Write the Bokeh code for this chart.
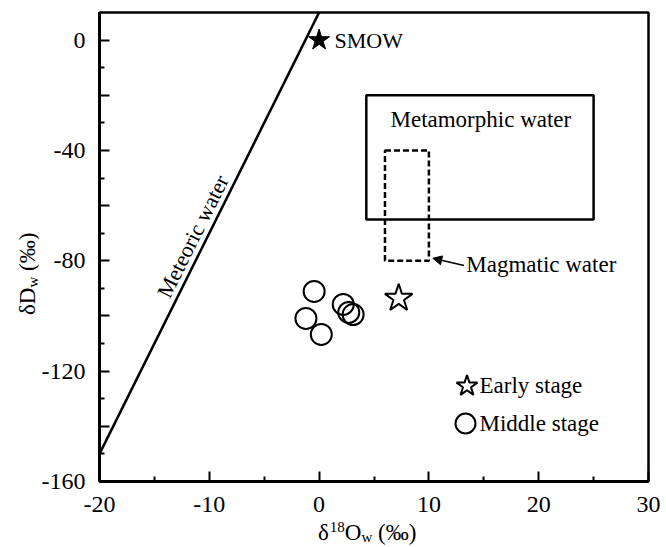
from bokeh.plotting import figure
from bokeh.layouts import row, column
from bokeh.models import (Range1d, FixedTicker, Label, Arrow, NormalHead,
                          Legend, LegendItem, Div)
from bokeh.embed import file_html
from bokeh.resources import INLINE

FONT = "Liberation Serif"

# ---- data ----
x_ticks = [-20, -10, 0, 10, 20, 30]
x_labels = {-20: "-20", -10: "-10", 0: "0", 10: "10", 20: "20", 30: "30"}
x_minor = [-15, -5, 5, 15, 25]
y_ticks = [-160, -140, -120, -100, -80, -60, -40, -20, 0]
y_minor = [-150, -130, -110, -90, -70, -50, -30, -10]
y_labels = {-160: "-160", -140: "", -120: "-120", -100: "", -80: "-80",
            -60: "", -40: "-40", -20: "", 0: "0"}

# Global meteoric water line (dD = 8 d18O + 10)
mwl_x = [-20, 0]
mwl_y = [-150, 10]

smow_x = [0]
smow_y = [0]

early_x = [7.25]
early_y = [-93.6]

middle_x = [-0.45, -1.2, 0.2, 2.2, 2.7, 3.1]
middle_y = [-91.1, -100.9, -106.7, -95.8, -98.7, -99.5]

meta_left, meta_right, meta_bottom, meta_top = [4.3], [25], [-65], [-20]
mag_left, mag_right, mag_bottom, mag_top = [6], [10], [-80], [-40]

# ---- figure ----
p = figure(width=628, height=515, x_range=Range1d(-20, 30),
           y_range=Range1d(-160, 10), output_backend="svg",
           toolbar_location=None, min_border_left=57, min_border_right=18,
           min_border_top=12, min_border_bottom=34, margin=0)
p.grid.visible = False
p.outline_line_color = "black"
p.outline_line_width = 2.5
p.background_fill_color = "white"

for ax in (p.xaxis[0], p.yaxis[0]):
    ax.axis_line_width = 3
    ax.major_tick_line_width = 2
    ax.minor_tick_line_width = 2
    ax.major_tick_in = 10
    ax.major_tick_out = 0
    ax.minor_tick_in = 5
    ax.minor_tick_out = 0
    ax.major_label_text_font = FONT
    ax.major_label_text_font_size = "24px"
    ax.major_label_text_color = "black"

p.xaxis[0].ticker = FixedTicker(ticks=x_ticks, minor_ticks=x_minor)
p.xaxis[0].major_label_overrides = x_labels
p.xaxis[0].major_label_standoff = 15
p.yaxis[0].ticker = FixedTicker(ticks=y_ticks, minor_ticks=y_minor)
p.yaxis[0].major_label_overrides = y_labels
p.yaxis[0].major_label_standoff = 14

# meteoric water line
p.line(mwl_x, mwl_y, line_color="black", line_width=2.5)

# boxes
p.quad(left=meta_left, right=meta_right, bottom=meta_bottom, top=meta_top,
       fill_alpha=0, line_color="black", line_width=2.5)
p.quad(left=mag_left, right=mag_right, bottom=mag_bottom, top=mag_top,
       fill_alpha=0, line_color="black", line_width=2.5, line_dash="6 3")

# points
p.scatter(smow_x, smow_y, marker="star", size=22, fill_color="black",
          line_color="black")
r_mid = p.scatter(middle_x, middle_y, marker="circle", size=21,
                  fill_alpha=0, line_color="black", line_width=2)
r_early = p.scatter(early_x, early_y, marker="star", size=29,
                    fill_color="white", line_color="black", line_width=2)

# annotations
def lab(text, x, y, size="22px", angle=0, align="left", baseline="middle",
        units="data"):
    p.add_layout(Label(text=text, x=x, y=y, x_units=units, y_units=units,
                       angle=angle, text_align=align,
                       text_baseline=baseline, text_font=FONT,
                       text_font_size=size, text_color="black"))

lab("SMOW", 1.4, 0)
lab("Metamorphic water", 6.5, -28.7, size="23px")
lab("Magmatic water", 13.4, -81.3, size="23px")
lab("Meteoric water", -11.5, -71.1, size="22px", angle=1.108, align="center")

p.add_layout(Arrow(end=NormalHead(size=9, fill_color="black",
                                  line_color="black"),
                   x_start=13.2, y_start=-81.7, x_end=10.35, y_end=-79.1,
                   line_width=1.5, line_color="black"))

# legend: swatches from the renderers, texts as labels
common = dict(padding=0, margin=0, border_line_alpha=0,
              background_fill_alpha=0, label_text_font_size="1px",
              label_standoff=0, label_width=1)
p.add_layout(Legend(items=[LegendItem(label=" ", renderers=[r_early])],
                    location=(339.5, 68.5), glyph_width=55, glyph_height=55,
                    **common))
p.add_layout(Legend(items=[LegendItem(label=" ", renderers=[r_mid])],
                    location=(341, 33), glyph_width=50, glyph_height=50,
                    **common))
lab("Early stage", 380, 96, size="23px", units="screen")
lab("Middle stage", 380, 58, size="23px", units="screen")

# ---- axis titles (HTML, with real sub/superscripts) ----
base = ("font-family:'Liberation Serif'; font-size:23px; line-height:1;"
        "white-space:nowrap; color:black;")
small = "font-size:15px;"
x_title = Div(width=628, height=32, margin=0, styles={"overflow": "visible"},
              text=(
    f'<div style="{base} padding-left:280px; padding-top:5px;">'
    f'\u03b4<span style="{small} vertical-align:8px; margin-left:1px;">18</span>'
    f'O<span style="{small} vertical-align:-2px;">w</span> (\u2030)</div>'))
y_title = Div(width=38, height=547, margin=0, styles={"overflow": "visible"},
              text=(
    f'<div style="{base} width:max-content; transform-origin:0 0;'
    f' transform:translate(16px, 315px) rotate(-90deg);">'
    f'\u03b4D<span style="{small} vertical-align:-3px;">w</span> (\u2030)</div>'))

page = row(y_title, column(p, x_title, spacing=0), spacing=0)

open("out.html", "w").write(file_html(page, INLINE))
